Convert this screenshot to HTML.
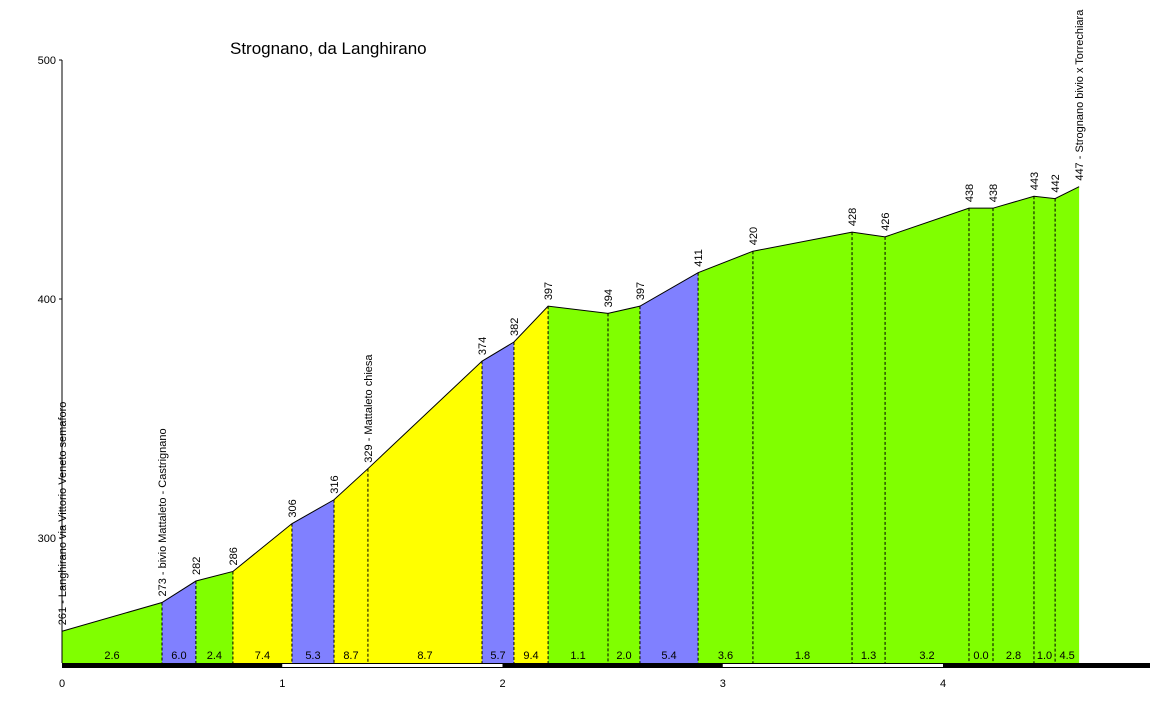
<!DOCTYPE html>
<html><head><meta charset="utf-8"><style>
body{margin:0;background:#fff;}
svg{display:block;font-family:"Liberation Sans",sans-serif;}
</style></head><body>
<svg id="c" width="1150" height="720" xmlns="http://www.w3.org/2000/svg">
<text x="230" y="54" font-size="17">Strognano, da Langhirano</text>
</svg>
<script>
const kms=[0,0.454,0.608,0.776,1.044,1.235,1.389,1.907,2.052,2.207,2.479,2.624,2.888,3.137,3.587,3.737,4.118,4.227,4.413,4.509,4.618];
const elevs=[261,273,282,286,306,316,329,374,382,397,394,397,411,420,428,426,438,438,443,442,447];
const grades=["2.6","6.0","2.4","7.4","5.3","8.7","8.7","5.7","9.4","1.1","2.0","5.4","3.6","1.8","1.3","3.2","0.0","2.8","1.0","4.5"];
const names={0:"261 - Langhirano  via Vittorio Veneto  semaforo",1:"273 - bivio Mattaleto - Castrignano",6:"329 - Mattaleto  chiesa",20:"447 - Strognano  bivio x Torrechiara"};
const yTicks=[300,400,500];
const xTicks=[0,1,2,3,4];
const NS="http://www.w3.org/2000/svg";
const svg=document.getElementById('c');
const X=k=>62+k*220.25;
const Y=e=>538-(e-300)*2.39;
const BASE=663;
function mk(t,a,p){const e=document.createElementNS(NS,t);for(const k in a)e.setAttribute(k,a[k]);(p||svg).appendChild(e);return e;}
function color(g){g=parseFloat(g);return g<5?"#80ff00":(g<7?"#8080ff":"#ffff00");}
for(let i=0;i<kms.length-1;i++){
 const x1=X(kms[i]),x2=X(kms[i+1]);
 const p=mk('polygon',{points:`${x1},${BASE} ${x1},${Y(elevs[i])} ${x2},${Y(elevs[i+1])} ${x2},${BASE}`,fill:color(grades[i])});
 
 
 const t=mk('text',{x:(x1+x2)/2,y:BASE-4,'font-size':11,'text-anchor':'middle'});
 t.textContent=grades[i];
 
 
 if(i>0){const d=mk('line',{x1:x1,x2:x1,y1:Y(elevs[i]),y2:BASE,stroke:'#000','stroke-dasharray':'3,2','stroke-width':1});
 
 }
}
let pts=kms.map((k,i)=>X(k)+','+Y(elevs[i])).join(' ');
const pl=mk('polyline',{points:pts,fill:'none',stroke:'#000','stroke-width':1});


for(let i=0;i<kms.length;i++){
 const x=X(kms[i])+4,y=Y(elevs[i])-6;
 const t=mk('text',{x:x,y:y,'font-size':11,transform:`rotate(-90 ${x} ${y})`});
 t.textContent=names[i]||String(elevs[i]);
 
 
}
const ax=mk('line',{x1:62,x2:62,y1:60,y2:BASE,stroke:'#000'});


yTicks.forEach(v=>{
 const t=mk('text',{x:56,y:Y(v)+4,'font-size':11,'text-anchor':'end'});t.textContent=v;
 
 
 mk('line',{x1:59,x2:62,y1:Y(v),y2:Y(v),stroke:'#000'});
});
const bar=mk('rect',{x:62,y:BASE,width:1088,height:5,fill:'#000'});


xTicks.forEach((v,i)=>{
 if(i%2==1&&i<xTicks.length-1){mk('rect',{x:X(v),y:BASE+1,width:X(xTicks[i+1])-X(v),height:3,fill:'#fff'});}
 const t=mk('text',{x:X(v),y:BASE+24,'font-size':11,'text-anchor':'middle'});t.textContent=v;
 
 
});
</script>
</body></html>
